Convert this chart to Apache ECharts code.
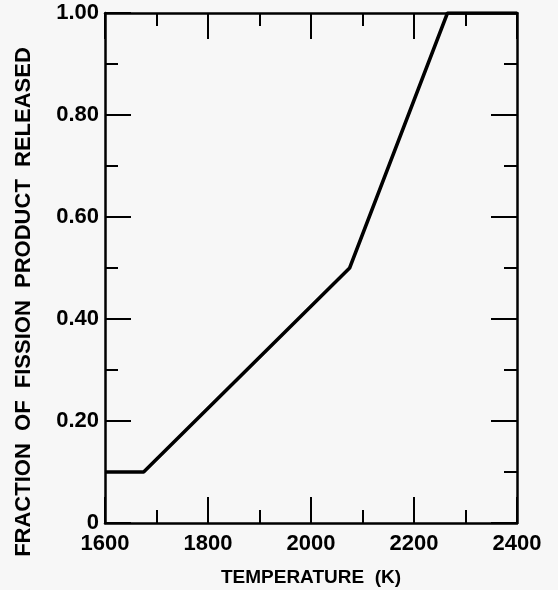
<!DOCTYPE html>
<html><head><meta charset="utf-8">
<script src="https://cdn.jsdelivr.net/npm/echarts@6/dist/echarts.min.js"></script>
<style>html,body{margin:0;padding:0;background:#f7f7f7}#c{width:558px;height:590px}</style>
</head><body><div id="c"></div>
<script>
var temperatures = [1600, 1675, 2075, 2265, 2400];
var fractions = [0.10, 0.10, 0.50, 1.00, 1.00];
var xTitle = 'TEMPERATURE  (K)';
var yTitle = 'FRACTION  OF  FISSION  PRODUCT  RELEASED';

var chart = echarts.init(document.getElementById('c'));
var font = 'Liberation Sans, Arial, sans-serif';
var axisStyle = {onZero: false, lineStyle: {color: '#000', width: 2.5}};
var tick = {inside: true, length: 26, lineStyle: {color: '#000', width: 2}};
var minor = {show: true, splitNumber: 2, length: 13, lineStyle: {color: '#000', width: 2}};
var data = temperatures.map(function (t, i) { return [t, fractions[i]]; });

chart.setOption({
  backgroundColor: '#f7f7f7',
  animation: false,
  grid: {left: 105, right: 41, top: 13, bottom: 67, containLabel: false, outerBoundsMode: 'none'},
  xAxis: [{
    type: 'value', min: 1600, max: 2400, interval: 200, position: 'bottom',
    axisLine: axisStyle, axisTick: tick, minorTick: minor,
    splitLine: {show: false}, minorSplitLine: {show: false},
    axisLabel: {color: '#000', fontSize: 22, fontFamily: font, fontWeight: 'bold', margin: 10,
      formatter: function (v) { return String(v); }},
    name: xTitle, nameLocation: 'middle', nameGap: 45,
    nameTextStyle: {color: '#000', fontSize: 19, fontFamily: font, fontWeight: 'bold'}
  }, {
    type: 'value', min: 1600, max: 2400, interval: 200, position: 'top',
    axisLine: axisStyle, axisTick: tick, minorTick: minor,
    splitLine: {show: false}, axisLabel: {show: false}
  }],
  yAxis: [{
    type: 'value', min: 0, max: 1, interval: 0.2, position: 'left',
    axisLine: axisStyle, axisTick: tick, minorTick: minor,
    splitLine: {show: false}, minorSplitLine: {show: false},
    axisLabel: {color: '#000', fontSize: 22, fontFamily: font, fontWeight: 'bold', margin: 6,
      formatter: function (v) { return v === 0 ? '0' : v.toFixed(2); }}
  }, {
    type: 'value', min: 0, max: 1, interval: 0.2, position: 'right',
    axisLine: axisStyle, axisTick: tick, minorTick: minor,
    splitLine: {show: false}, axisLabel: {show: false}
  }],
  graphic: [{
    type: 'text', x: 24, y: 302, rotation: Math.PI / 2,
    style: {text: yTitle, fill: '#000', fontSize: 22, fontFamily: font, fontWeight: 'bold',
      textAlign: 'center', textVerticalAlign: 'middle'}
  }],
  series: [{
    type: 'line', data: data, symbol: 'none', xAxisIndex: 0, yAxisIndex: 0,
    lineStyle: {color: '#000', width: 3.5}
  }]
});
</script></body></html>
